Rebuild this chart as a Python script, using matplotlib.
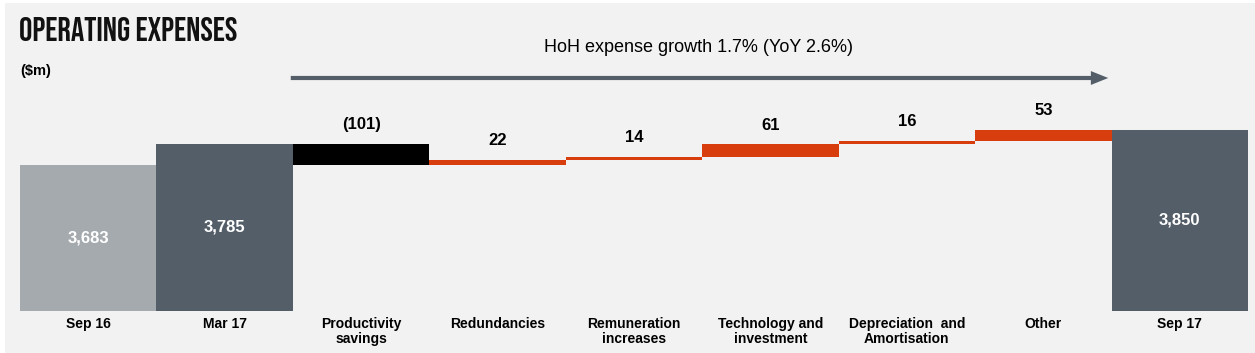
import matplotlib
matplotlib.use('Agg')
import matplotlib.pyplot as plt
from matplotlib.patches import Rectangle, FancyArrowPatch

# ---- data ----
categories = ['Sep 16', 'Mar 17', 'Productivity\nsavings', 'Redundancies',
              'Remuneration\nincreases', 'Technology and\ninvestment',
              'Depreciation  and\nAmortisation', 'Other', 'Sep 17']
values = [3683, 3785, -101, 22, 14, 61, 16, 53, 3850]
kinds = ['total', 'total', 'delta', 'delta', 'delta', 'delta', 'delta', 'delta', 'total']
value_labels = ['3,683', '3,785', '(101)', '22', '14', '61', '16', '53', '3,850']
title = 'OPERATING EXPENSES'
unit = '($m)'
growth_text = 'HoH expense growth 1.7% (YoY 2.6%)'

# ---- style ----
BG = '#f2f2f2'
LIGHT = '#a5aaaf'
DARK = '#535e69'
RED = '#d73d0d'
NEG = '#000000'
total_colors = {0: LIGHT, 1: DARK, 8: DARK}

plt.rcParams['font.family'] = ['Liberation Sans', 'DejaVu Sans']

W, H = 1255, 353
fig = plt.figure(figsize=(W / 100, H / 100), dpi=100)
fig.patch.set_facecolor('white')
fig.add_artist(Rectangle((5 / W, 0), 1 - 5 / W, 1 - 3 / H, transform=fig.transFigure,
                         facecolor=BG, edgecolor='none', zorder=0))

ax_top_px, ax_bot_px = 20, 311
ax = fig.add_axes([20 / W, (H - ax_bot_px) / H, 1228 / W, (ax_bot_px - ax_top_px) / H])
ax.patch.set_visible(False)
y0 = 2988
scale = 0.21  # px per unit
ax.set_xlim(-0.5, len(categories) - 0.5)
ax.set_ylim(y0, y0 + (ax_bot_px - ax_top_px) / scale)

running = None
for i, (v, k) in enumerate(zip(values, kinds)):
    if k == 'total':
        ax.bar(i, v - y0, bottom=y0, width=1.0, color=total_colors[i], linewidth=0, zorder=2)
        ax.text(i, (y0 + v) / 2, value_labels[i], ha='center', va='center',
                color='white', fontsize=12, fontweight='bold', zorder=3)
        running = v
    else:
        start = running
        end = running + v
        lo, hi = min(start, end), max(start, end)
        ax.bar(i, hi - lo, bottom=lo, width=1.0, color=NEG if v < 0 else RED,
               linewidth=0, zorder=2)
        ax.annotate(value_labels[i], (i, hi), xytext=(0, 14), textcoords='offset points',
                    ha='center', va='center', fontsize=12, fontweight='bold', color='black')
        running = end

ax.set_xticks(range(len(categories)))
ax.set_xticklabels(categories, fontsize=10, fontweight='bold', linespacing=1.15)
ax.tick_params(axis='x', length=0, pad=4)
ax.set_yticks([])
for s in ax.spines.values():
    s.set_visible(False)

fig.text(19 / W, 1 - 17 / H, title, ha='left', va='top', fontsize=24,
         family=['Bebas Neue', 'Oswald', 'Barlow Condensed', 'DejaVu Sans'], color='#111111')
fig.text(20 / W, 1 - 71 / H, unit, ha='left', va='center', fontsize=10.5, fontweight='bold')
fig.text(699 / W, 1 - 47 / H, growth_text, ha='center', va='center', fontsize=13)

arrow = FancyArrowPatch((288, H - 78), (1111, H - 78), transform=None,
                        arrowstyle='simple,head_length=1.25,head_width=1.0,tail_width=0.3',
                        mutation_scale=10, color=DARK, linewidth=0)
fig.add_artist(arrow)

fig.savefig('out.png', dpi=100, facecolor=fig.get_facecolor())
